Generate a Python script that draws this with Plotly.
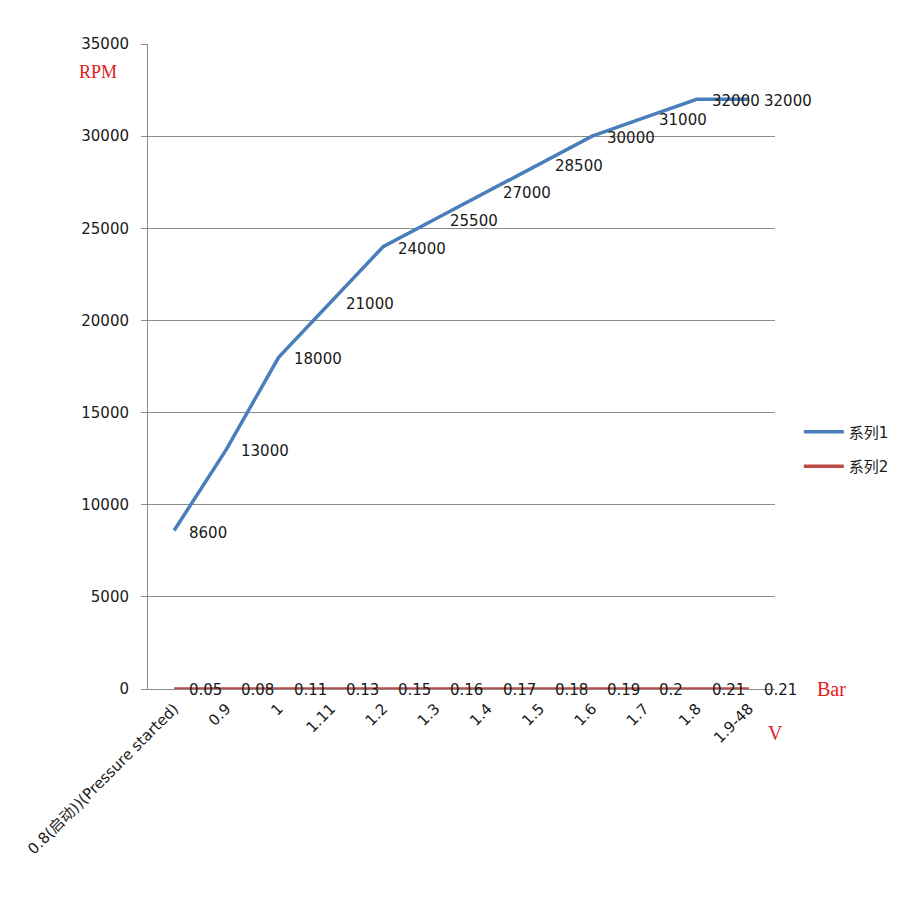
import plotly.graph_objects as go

categories = ["0.8(启动))(Pressure started)", "0.9", "1", "1.11", "1.2", "1.3",
              "1.4", "1.5", "1.6", "1.7", "1.8", "1.9-48"]
rpm_values = [8600, 13000, 18000, 21000, 24000, 25500, 27000, 28500, 30000, 31000, 32000, 32000]
bar_values = [0.05, 0.08, 0.11, 0.13, 0.15, 0.16, 0.17, 0.18, 0.19, 0.2, 0.21, 0.21]
y_ticks = [0, 5000, 10000, 15000, 20000, 25000, 30000, 35000]

FONT = "DejaVu Sans, Noto Sans CJK SC, sans-serif"
BLUE = "#4a7ebb"
RED = "#be4b48"
GRID = "#8c8c8c"

fig = go.Figure()
fig.add_trace(go.Scatter(x=categories, y=rpm_values, mode="lines", name="系列1",
                         line=dict(color=BLUE, width=3.5), legendgroup="a"))
fig.add_trace(go.Scatter(x=categories, y=bar_values, mode="lines", name="系列2",
                         line=dict(color=RED, width=3.5), legendgroup="b"))

annotations = []
for i, v in enumerate(rpm_values):
    annotations.append(dict(x=i, y=v, xref="x", yref="y", text=str(v), showarrow=False,
                            xanchor="left", yanchor="middle", xshift=13, yshift=-2,
                            font=dict(family=FONT, size=15, color="#1a1a1a")))
for i, v in enumerate(bar_values):
    annotations.append(dict(x=i, y=v, xref="x", yref="y", text=str(v), showarrow=False,
                            xanchor="left", yanchor="middle", xshift=13, yshift=-1,
                            font=dict(family=FONT, size=15, color="#1a1a1a")))

SERIF = "SimSun, Liberation Serif, DejaVu Serif, serif"
annotations += [
    dict(x=-0.08, y=0.957, xref="paper", yref="paper", text="RPM", showarrow=False,
         xanchor="center", yanchor="middle",
         font=dict(family=SERIF, size=18, color="#e02020")),
    dict(x=1.064, y=0.0, xref="paper", yref="paper", text="Bar", showarrow=False,
         xanchor="left", yanchor="middle",
         font=dict(family=SERIF, size=20, color="#e02020")),
    dict(x=0.985, y=-0.068, xref="paper", yref="paper", text="V", showarrow=False,
         xanchor="left", yanchor="middle",
         font=dict(family=SERIF, size=20, color="#e02020")),
]

fig.update_layout(
    width=900, height=900,
    margin=dict(l=140, r=133, t=36, b=219),
    paper_bgcolor="white", plot_bgcolor="white",
    font=dict(family=FONT, size=15, color="#1a1a1a"),
    showlegend=True,
    legend=dict(x=1.038, y=0.372, xanchor="left", yanchor="middle",
                traceorder="grouped", tracegroupgap=12, itemwidth=40,
                font=dict(family=FONT, size=15, color="#1a1a1a")),
    annotations=annotations,
)
fig.update_xaxes(type="category", range=[-0.5, len(categories) - 0.5],
                 tickangle=-45, showgrid=False, automargin=False,
                 showline=True, linecolor=GRID, linewidth=1,
                 ticks="", ticklabelstandoff=4, tickfont=dict(family=FONT, size=15))
fig.update_yaxes(range=[0, 35000], tickvals=y_ticks, ticktext=[str(t) for t in y_ticks],
                 showgrid=True, gridcolor=GRID, gridwidth=1, automargin=False,
                 showline=True, linecolor=GRID, linewidth=1,
                 ticks="outside", ticklen=6, tickcolor=GRID, ticklabelstandoff=9,
                 zeroline=False, tickfont=dict(family=FONT, size=15))

fig.write_html("out.html")
